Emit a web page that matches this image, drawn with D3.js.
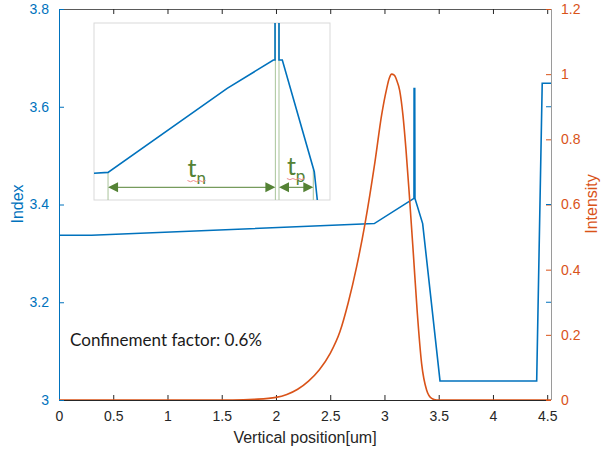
<!DOCTYPE html>
<html>
<head>
<meta charset="utf-8">
<script src="https://cdn.jsdelivr.net/npm/d3@7"></script>
<style>
  body { margin: 0; background: #fff; }
  svg { display: block; }
  text { font-family: "Liberation Sans", Arial, sans-serif; }
</style>
</head>
<body>
<div id="chart"></div>
<script>
// tick labels
var xTicks = [0, 0.5, 1, 1.5, 2, 2.5, 3, 3.5, 4, 4.5];
var indexTicks = [3, 3.2, 3.4, 3.6, 3.8];
var intensityTicks = [0, 0.2, 0.4, 0.6, 0.8, 1, 1.2];

// refractive index profile (um, index)
var indexPos = [0, 0.3, 2.906, 3.272, 3.273, 3.279, 3.281, 3.352, 3.512, 4.403, 4.454, 4.535];
var indexVal = [3.337, 3.337, 3.361, 3.4125, 3.637, 3.637, 3.4125, 3.361, 3.039, 3.039, 3.648, 3.648];

// optical mode intensity
var intensityPos = [0, 1.6, 1.8, 2.0, 2.1, 2.2, 2.3, 2.4, 2.5, 2.59, 2.667, 2.744, 2.82, 2.912, 2.974, 3.02, 3.045, 3.066,
    3.09, 3.112, 3.14, 3.17, 3.198, 3.229, 3.266, 3.302, 3.343, 3.389, 3.435, 3.48, 4.535];
var intensityVal = [0, 0, 0.002, 0.008, 0.017, 0.033, 0.058, 0.093, 0.143, 0.21, 0.3, 0.41, 0.54, 0.73, 0.875, 0.955, 0.988, 1.0,
    0.997, 0.982, 0.95, 0.875, 0.77, 0.63, 0.45, 0.27, 0.11, 0.03, 0.005, 0, 0];

// inset: zoom of the index profile near the active region
var insetPos = [2.875, 2.906, 3.169, 3.271, 3.2746, 3.2746, 3.2834, 3.2834, 3.2907, 3.3613, 3.368, 3.40];
var insetVal = [3.3609, 3.3613, 3.3996, 3.4125, 3.4125, 3.46, 3.46, 3.4125, 3.4125, 3.3616, 3.3487, 3.28];

// layer boundaries marked in the inset
var tnRange = [2.906, 3.2754];
var tpRange = [3.2834, 3.3591];

var svgWidth = 602;
var svgHeight = 450;

var blue = "#0072BD";
var orange = "#D95319";
var green = "#548235";

var svg = d3.select("#chart").append("svg")
    .attr("width", svgWidth)
    .attr("height", svgHeight);

var x = d3.scaleLinear().domain([0, 4.535]).range([59, 551]);
var yIdx = d3.scaleLinear().domain([3, 3.8]).range([400, 9]);
var yInt = d3.scaleLinear().domain([0, 1.2]).range([400, 9]);

svg.append("clipPath").attr("id", "plotclip")
    .append("rect")
    .attr("x", 59).attr("y", 9).attr("width", 492).attr("height", 391);

// data lines
var idxData = indexPos.map((p, i) => [p, indexVal[i]]);
var intData = intensityPos.map((p, i) => [p, intensityVal[i]]);

svg.append("path")
    .datum(idxData)
    .attr("clip-path", "url(#plotclip)")
    .attr("fill", "none")
    .attr("stroke", blue)
    .attr("stroke-width", 1.6)
    .attr("d", d3.line().x(d => x(d[0])).y(d => yIdx(d[1])));

// axes frame
// bottom
var bottomAxis = d3.axisBottom(x).tickValues(xTicks).tickSize(-5).tickPadding(11).tickFormat(d3.format("~g"));
var gx = svg.append("g").attr("transform", "translate(0,400)").call(bottomAxis);
gx.select(".domain").attr("stroke", "#262626").attr("d", "M59,0H551");
gx.selectAll(".tick line").attr("stroke", "#262626");
gx.selectAll(".tick text").attr("fill", "#262626").style("font-size", "14px");

// top
var topAxis = d3.axisTop(x).tickValues(xTicks).tickSize(-5).tickFormat("");
var gt = svg.append("g").attr("transform", "translate(0,9)").call(topAxis);
gt.select(".domain").attr("stroke", "#5a5a5a").attr("d", "M59,0H551");
gt.selectAll(".tick line").attr("stroke", "#262626");

// right (intensity)
var rightAxis = d3.axisRight(yInt).tickValues(intensityTicks).tickSize(-5).tickPadding(10).tickFormat(d3.format("~g"));
var gr = svg.append("g").attr("transform", "translate(551,0)").call(rightAxis);
gr.select(".domain").attr("stroke", "#9a9a9a").attr("d", "M0,9V400");
gr.selectAll(".tick line").attr("stroke", orange);
gr.selectAll(".tick text").attr("fill", orange).style("font-size", "14px");

// index ticks mirrored on the right side
svg.append("g").selectAll("line")
    .data(indexTicks.slice(1, 4))
    .enter().append("line")
    .attr("x1", 546).attr("x2", 551)
    .attr("y1", d => yIdx(d)).attr("y2", d => yIdx(d))
    .attr("stroke", blue);

// left (index)
var leftAxis = d3.axisLeft(yIdx).tickValues(indexTicks).tickSize(-5).tickPadding(10).tickFormat(d3.format("~g"));
var gl = svg.append("g").attr("transform", "translate(59,0)").call(leftAxis);
gl.select(".domain").attr("stroke", blue).attr("d", "M0,9V400");
gl.selectAll(".tick line").attr("stroke", blue);
gl.selectAll(".tick text").attr("fill", blue).style("font-size", "14px");

svg.selectAll(".domain").attr("shape-rendering", "crispEdges");

// intensity on top of the axis line
svg.append("path")
    .datum(intData)
    .attr("clip-path", "url(#plotclip)")
    .attr("fill", "none")
    .attr("stroke", orange)
    .attr("stroke-width", 1.6)
    .attr("d", d3.line().x(d => x(d[0])).y(d => yInt(d[1])).curve(d3.curveMonotoneX));

// axis titles
svg.append("text")
    .attr("x", 305).attr("y", 443)
    .attr("text-anchor", "middle")
    .attr("fill", "#262626")
    .style("font-size", "16px")
    .text("Vertical position[um]");

svg.append("text")
    .attr("transform", "translate(23,204) rotate(-90)")
    .attr("text-anchor", "middle")
    .attr("fill", blue)
    .style("font-size", "16px")
    .text("Index");

svg.append("text")
    .attr("transform", "translate(597,204) rotate(-90)")
    .attr("text-anchor", "middle")
    .attr("fill", orange)
    .style("font-size", "16px")
    .text("Intensity");

svg.append("text")
    .attr("x", 70).attr("y", 346)
    .attr("fill", "#1a1a1a")
    .style("font-family", "Lato, 'Open Sans', sans-serif")
    .style("font-size", "18px")
    .attr("textLength", 192)
    .attr("lengthAdjust", "spacingAndGlyphs")
    .text("Confinement factor: 0.6%");

// ---- inset ----
var ix = d3.scaleLinear().domain([2.875, 3.396]).range([94, 330]);
var iy = d3.scaleLinear().domain([3.3487, 3.4294]).range([200, 23]);

var inset = svg.append("g");
inset.append("rect")
    .attr("x", 94).attr("y", 23).attr("width", 236).attr("height", 177)
    .attr("fill", "#fff")
    .attr("stroke", "#d9d9d9");

inset.append("clipPath").attr("id", "insetclip")
    .append("rect")
    .attr("x", 94).attr("y", 23).attr("width", 236).attr("height", 177);

var arrowY = 187.3;

// boundary lines
var bounds = [
    {p: tnRange[0], top: iy(3.3613)},
    {p: tnRange[1], top: 23},
    {p: tpRange[0], top: 23},
    {p: tpRange[1], top: 170}
];
inset.selectAll(".bound")
    .data(bounds)
    .enter().append("line")
    .attr("x1", d => ix(d.p)).attr("x2", d => ix(d.p))
    .attr("y1", d => d.top).attr("y2", 200)
    .attr("stroke", "#a9c49a")
    .attr("stroke-width", 1);

var insetData = insetPos.map((p, i) => [p, insetVal[i]]);
inset.append("path")
    .datum(insetData)
    .attr("clip-path", "url(#insetclip)")
    .attr("fill", "none")
    .attr("stroke", blue)
    .attr("stroke-width", 1.6)
    .attr("d", d3.line().x(d => ix(d[0])).y(d => iy(d[1])));

// double-headed arrows
function arrow(x1, x2) {
    inset.append("line")
        .attr("x1", x1 + 8).attr("x2", x2 - 8)
        .attr("y1", arrowY).attr("y2", arrowY)
        .attr("stroke", green).attr("stroke-width", 1);
    inset.append("path")
        .attr("d", `M${x1},${arrowY}l10,-5v10z`)
        .attr("fill", green);
    inset.append("path")
        .attr("d", `M${x2},${arrowY}l-10,-5v10z`)
        .attr("fill", green);
}
arrow(ix(tnRange[0]), ix(tnRange[1]));
arrow(ix(tpRange[0]), ix(tpRange[1]));

// labels t_n, t_p
function layerLabel(cx, sub, tY) {
    var t = inset.append("text")
        .attr("x", cx).attr("y", tY)
        .attr("text-anchor", "middle")
        .attr("fill", green)
        .style("font-family", "Lato, 'Open Sans', sans-serif");
    t.append("tspan").style("font-size", "25px").text("t");
    t.append("tspan").attr("dy", 7).style("font-size", "17px").text(sub);
    // spell-check squiggle
    var bb = t.node().getBBox();
    inset.append("path")
        .attr("d", d3.range(0, Math.floor(bb.width / 3) + 1).map((k, i) =>
            (i === 0 ? "M" : "L") + (bb.x + k * 3) + "," + (tY + 4 + (i % 2 ? 1.2 : 0))).join(""))
        .attr("fill", "none")
        .attr("stroke", "#f08c8c")
        .attr("stroke-width", 1);
}
layerLabel((ix(tnRange[0]) + ix(tnRange[1])) / 2 + 5, "n", 176.5);
layerLabel((ix(tpRange[0]) + ix(tpRange[1])) / 2, "p", 174.5);
</script>
</body>
</html>
